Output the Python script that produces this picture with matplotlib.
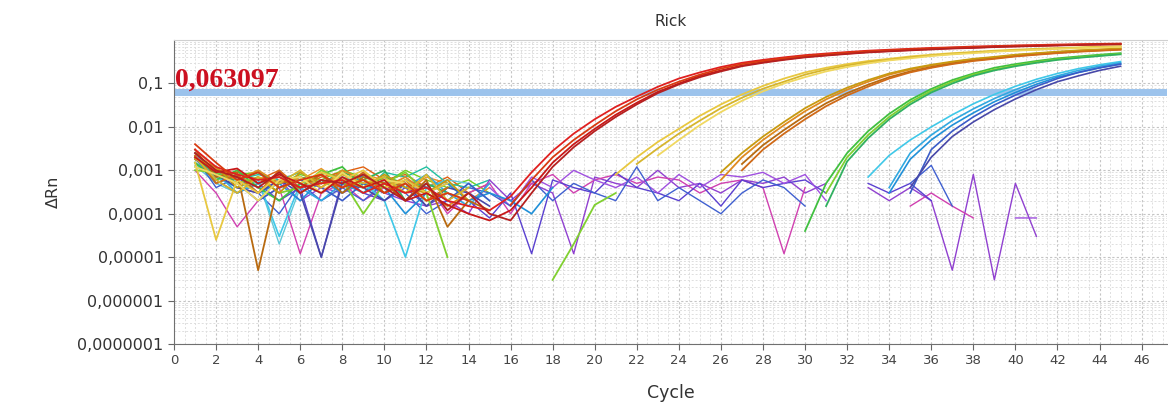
# Amplification plot (Delta Rn vs cycle), log scale, threshold line.
import matplotlib.pyplot as plt
import matplotlib.ticker as mticker
import numpy as np

n = np.nan
cycles = np.arange(1, 46)

threshold = 0.063097
title = 'Rick'
ytick_vals = [1e-7, 1e-6, 1e-5, 1e-4, 1e-3, 1e-2, 1e-1]
ytick_labels = ['0,0000001', '0,000001', '0,00001', '0,0001', '0,001', '0,01', '0,1']

# red wells (Ct ~22.5)
red_wells = [
    [3e-3, 1.2e-3, 8e-4, 6e-4, 7e-4, 4e-4, 5e-4, 6e-4, 3e-4, 5e-4, 3e-4, 4e-4, 2e-4, 1.5e-4, 1.2e-4,
     2.5e-4, 9e-4, 2.8e-3, 7e-3, 1.5e-2, 2.9e-2, 5e-2, 8.4e-2, 0.13, 0.18, 0.24, 0.30, 0.35, 0.40, 0.45,
     0.49, 0.53, 0.57, 0.60, 0.63, 0.66, 0.68, 0.71, 0.73, 0.75, 0.77, 0.79, 0.80, 0.82, 0.83],
    [2e-3, 9e-4, 1.1e-3, 5e-4, 8e-4, 5e-4, 3e-4, 7e-4, 4e-4, 6e-4, 2e-4, 3e-4, 1.6e-4, 1e-4, 7e-5,
     1.2e-4, 4e-4, 1.5e-3, 4e-3, 9e-3, 1.9e-2, 3.6e-2, 6.4e-2, 0.10, 0.15, 0.20, 0.26, 0.31, 0.36, 0.41,
     0.45, 0.49, 0.53, 0.56, 0.59, 0.62, 0.65, 0.67, 0.70, 0.72, 0.74, 0.76, 0.78, 0.79, 0.81],
    [4e-3, 1.5e-3, 6e-4, 9e-4, 4e-4, 6e-4, 8e-4, 4e-4, 6e-4, 3e-4, 5e-4, 2e-4, 3e-4, 2e-4, n,
     1.6e-4, 6e-4, 2e-3, 5e-3, 1.1e-2, 2.3e-2, 4.3e-2, 7.2e-2, 0.11, 0.16, 0.22, 0.28, 0.33, 0.38, 0.43,
     0.47, 0.51, 0.55, 0.58, 0.61, 0.64, 0.67, 0.69, 0.71, 0.74, 0.75, 0.77, 0.79, 0.80, 0.82],
    [2.5e-3, 1e-3, 7e-4, 4e-4, 9e-4, 3e-4, 6e-4, 5e-4, 8e-4, 4e-4, 2e-4, 5e-4, 1.2e-4, 3e-4, 1e-4,
     7e-5, 3e-4, 1.2e-3, 3.4e-3, 8e-3, 1.7e-2, 3.3e-2, 6e-2, 0.095, 0.14, 0.19, 0.25, 0.30, 0.35, 0.40,
     0.44, 0.48, 0.52, 0.55, 0.58, 0.61, 0.64, 0.66, 0.69, 0.71, 0.73, 0.75, 0.77, 0.79, 0.80],
]
red_colors = ['#e02020', '#c81818', '#d83a10', '#b52020']

# yellow wells (Ct ~26.5)
yellow_wells = [
    [1.5e-3, 2.5e-5, 6e-4, 3e-4, 8e-4, 5e-4, 9e-4, 6e-4, 1e-3, 4e-4, 6e-4, 3e-4, 5e-4, n, n,
     n, n, n, n, n, 8e-4, 2e-3, 4.5e-3, 9e-3, 1.8e-2, 3.3e-2, 5.6e-2, 8.8e-2, 0.13, 0.18,
     0.23, 0.28, 0.33, 0.37, 0.42, 0.46, 0.50, 0.53, 0.57, 0.60, 0.63, 0.65, 0.68, 0.70, 0.72],
    [2e-3, 6e-4, 3e-4, 7e-4, 5e-4, 1e-3, 4e-4, 8e-4, 5e-4, 7e-4, 3e-4, 8e-4, 2e-4, 4e-4, n,
     n, n, n, n, n, n, 1.4e-3, 3.2e-3, 7e-3, 1.4e-2, 2.7e-2, 4.7e-2, 7.6e-2, 0.11, 0.16,
     0.21, 0.26, 0.31, 0.35, 0.40, 0.44, 0.48, 0.52, 0.55, 0.58, 0.61, 0.64, 0.66, 0.69, 0.71],
    [1.2e-3, 8e-4, 5e-4, 2e-4, 6e-4, 7e-4, 3e-4, 9e-4, 4e-4, 6e-4, 5e-4, 2e-4, 3e-4, n, n,
     n, n, n, n, n, n, n, 2.2e-3, 5e-3, 1.1e-2, 2.2e-2, 4e-2, 6.6e-2, 0.10, 0.14,
     0.19, 0.24, 0.29, 0.34, 0.38, 0.43, 0.47, 0.50, 0.54, 0.57, 0.60, 0.63, 0.65, 0.68, 0.70],
]
yellow_colors = ['#e8c840', '#d6b52c', '#f0d860']

# orange / brown wells (Ct ~31)
orange_wells = [
    [2e-3, 1e-3, 6e-4, 1e-3, 5e-4, 7e-4, 4e-4, 1e-3, 6e-4, 4e-4, 7e-4, 3e-4, 1.5e-4, 3e-4, n,
     n, n, n, n, n, n, n, n, n, n, 6e-4, 2e-3, 5e-3, 1.1e-2, 2.3e-2,
     4.3e-2, 7.2e-2, 0.11, 0.16, 0.21, 0.26, 0.31, 0.36, 0.40, 0.45, 0.49, 0.53, 0.57, 0.60, 0.63],
    [3e-3, 7e-4, 9e-4, 5e-6, 6e-4, 4e-4, 8e-4, 3e-4, 7e-4, 5e-4, 2e-4, 6e-4, 5e-5, 2e-4, 1.2e-4,
     n, n, n, n, n, n, n, n, n, n, n, 1.4e-3, 3.8e-3, 8.5e-3, 1.8e-2,
     3.5e-2, 6e-2, 0.094, 0.14, 0.19, 0.24, 0.29, 0.34, 0.38, 0.43, 0.47, 0.51, 0.55, 0.58, 0.61],
    [1.8e-3, 1.2e-3, 4e-4, 7e-4, 3e-4, 9e-4, 5e-4, 6e-4, 4e-4, 8e-4, 4e-4, 3e-4, 6e-4, 2e-4, n,
     n, n, n, n, n, n, n, n, n, n, 9e-4, 2.5e-3, 6e-3, 1.3e-2, 2.7e-2,
     4.9e-2, 8e-2, 0.12, 0.17, 0.22, 0.27, 0.32, 0.37, 0.41, 0.46, 0.50, 0.54, 0.58, 0.61, 0.64],
    [2.2e-3, 5e-4, 8e-4, 3e-4, 1e-3, 3e-4, 6e-4, 4e-4, 9e-4, 3e-4, 6e-4, 2e-4, 4e-4, n, n,
     n, n, n, n, n, n, n, n, n, n, n, 1e-3, 3e-3, 7e-3, 1.5e-2,
     3e-2, 5.3e-2, 0.085, 0.13, 0.18, 0.23, 0.28, 0.33, 0.37, 0.42, 0.46, 0.50, 0.54, 0.57, 0.60],
]
orange_colors = ['#e08a20', '#b86a10', '#c89a10', '#d06a18']

# green wells (Ct ~35)
green_wells = [
    [1.5e-3, 6e-4, 1e-3, 4e-4, 2e-4, 5e-4, 8e-4, 1.2e-3, 4e-4, 7e-4, 5e-4, 2e-4, 4e-4, n, n,
     n, n, n, n, n, n, n, n, n, n, n, n, n, n, 4e-5,
     5e-4, 2.5e-3, 8e-3, 2e-2, 4.2e-2, 7.5e-2, 0.12, 0.17, 0.23, 0.28, 0.33, 0.38, 0.42, 0.46, 0.50],
    [1e-3, 9e-4, 5e-4, 7e-4, 3e-4, 4e-4, 1e-3, 6e-4, 1e-4, 5e-4, 9e-4, 3e-4, 1e-5, n, n,
     n, n, 3e-6, 2e-5, 1.6e-4, 3e-4, n, n, n, n, n, n, n, n, n,
     3e-4, 2e-3, 6.5e-3, 1.7e-2, 3.7e-2, 6.8e-2, 0.11, 0.16, 0.21, 0.26, 0.31, 0.36, 0.40, 0.44, 0.48],
    [2e-3, 8e-4, 6e-4, 9e-4, 5e-4, 7e-4, 5e-4, 9e-4, 6e-4, 1e-3, 2e-4, 5e-4, 3e-4, n, n,
     n, n, n, n, n, n, n, n, n, n, n, n, n, n, n,
     1.5e-4, 1.6e-3, 5.5e-3, 1.5e-2, 3.3e-2, 6.2e-2, 0.10, 0.15, 0.20, 0.25, 0.30, 0.35, 0.39, 0.43, 0.47],
]
green_colors = ['#40c040', '#80d030', '#30b060']

# cyan / blue wells (Ct ~39)
cyan_wells = [
    [1.5e-3, 7e-4, 4e-4, 6e-4, 3e-5, 5e-4, 3e-4, 7e-4, 5e-4, 2e-4, 1e-5, 4e-4, 6e-4, n, n,
     n, n, n, n, n, n, n, n, n, n, n, n, n, n, n,
     n, n, 7e-4, 2.2e-3, 5e-3, 1e-2, 1.9e-2, 3.4e-2, 5.6e-2, 8.6e-2, 0.125, 0.17, 0.22, 0.27, 0.32],
    [1.2e-3, 9e-4, 3e-4, 5e-4, 7e-4, 4e-4, 2e-4, 5e-4, 3e-4, 6e-4, 4e-4, 8e-4, 3e-4, 1.5e-4, 5e-4,
     n, n, n, n, n, n, n, n, n, n, n, n, n, n, n,
     n, n, n, 4e-4, 2.5e-3, 6.5e-3, 1.4e-2, 2.6e-2, 4.5e-2, 7.2e-2, 0.11, 0.15, 0.20, 0.25, 0.30],
    [2e-3, 5e-4, 8e-4, 3e-4, 5e-4, 2e-4, 6e-4, 3e-4, 8e-4, 4e-4, 1e-4, 3e-4, 5e-4, 2e-4, 3e-4,
     2e-4, 1e-4, 4e-4, n, n, n, n, n, n, n, n, n, n, n, n,
     n, n, n, 3e-4, 1.8e-3, 5e-3, 1.1e-2, 2.1e-2, 3.8e-2, 6.2e-2, 0.096, 0.14, 0.18, 0.23, 0.28],
    [1.8e-3, 1e-3, 5e-4, 2e-4, 4e-4, 6e-4, 4e-4, 2e-4, 5e-4, 3e-4, 6e-4, 4e-4, 2e-4, 5e-4, 2e-4,
     n, n, n, n, n, n, n, n, n, n, n, n, n, n, n,
     n, n, n, n, 3e-4, 3e-3, 8e-3, 1.7e-2, 3.2e-2, 5.4e-2, 0.086, 0.13, 0.18, 0.23, 0.28],
    [2.5e-3, 8e-4, 4e-4, 3e-4, 6e-4, 3e-4, 1e-5, 5e-4, 4e-4, 2e-4, 5e-4, 1.5e-4, 4e-4, 3e-4, 1.5e-4,
     n, n, n, n, n, n, n, n, n, n, n, n, n, n, n,
     n, n, n, n, 4e-4, 2e-3, 6e-3, 1.3e-2, 2.5e-2, 4.4e-2, 0.072, 0.11, 0.15, 0.20, 0.25],
]
cyan_colors = ['#40c8e8', '#30a8e0', '#2090d8', '#3a5cc8', '#4848a8']

# non-amplifying wells (purple / magenta / blue)
noise_wells = [
    [2e-3, 8e-4, 4e-4, 3e-4, 6e-4, 2e-4, 4e-4, 3e-4, 5e-4, 3e-4, 2e-4, 1.5e-4, 2e-4, 1e-4, 6e-4,
     2e-4, 5e-4, 3e-4, 1.2e-5, 7e-4, 5e-4, 4e-4, 1e-3, 4e-4, 5e-4, 3e-4, 6e-4, 5e-4, 7e-4, 3e-4,
     5e-4, n, 4e-4, 2e-4, 4e-4, 2e-4, 5e-6, 8e-4, 3e-6, 5e-4, 3e-5, n, n, n, n],
    [1e-3, 3e-4, 5e-5, 2e-4, 4e-4, 1.2e-5, 3e-4, 5e-4, 2e-4, 4e-4, 3e-4, 5e-4, 1e-4, 3e-4, 5e-4,
     1e-4, 5e-4, 8e-4, 3e-4, 6e-4, 8e-4, 5e-4, 7e-4, 6e-4, 3e-4, 5e-4, 6e-4, 4e-4, 1.2e-5, 4e-4,
     n, n, n, n, 1.5e-4, 3e-4, 1.5e-4, 8e-5, n, n, n, n, n, n, n],
    [1.5e-3, 6e-4, 3e-4, 5e-4, 2e-4, 4e-4, 1e-5, 6e-4, 3e-4, 2e-4, 4e-4, 1.5e-4, 3e-4, 2e-4, 8e-5,
     3e-4, 1.2e-5, 6e-4, 4e-4, 3e-4, 9e-4, 4e-4, 3e-4, 2e-4, 5e-4, 1.5e-4, 6e-4, 4e-4, 5e-4, 6e-4,
     3e-4, n, 5e-4, 3e-4, 5e-4, 2e-4, n, n, n, n, 8e-5, n, n, n, n],
    [n, n, n, n, n, n, n, n, n, n, n, n, n, n, 4e-4,
     1.5e-4, 7e-4, 4e-4, 1e-3, 6e-4, 4e-4, 7e-4, 3e-4, 8e-4, 4e-4, 8e-4, 7e-4, 9e-4, 5e-4, 8e-4,
     2e-4, n, n, n, n, n, n, n, n, 8e-5, 8e-5, n, n, n, n],
    [2e-3, 4e-4, 7e-4, 3e-4, 1e-4, 5e-4, 2e-4, 4e-4, 2e-4, 5e-4, 3e-4, 1e-4, 2e-4, 4e-4, 3e-4,
     1.5e-4, 6e-4, 2e-4, 5e-4, 3e-4, 2e-4, 1.2e-3, 2e-4, 4e-4, 2e-4, 1e-4, 3e-4, 6e-4, 4e-4, 1.5e-4,
     n, n, n, n, 5e-4, 1.3e-3, 1.5e-4, n, n, n, n, n, n, n, n],
]
noise_colors = ['#9040d0', '#d040b0', '#5a40d0', '#a050e0', '#4060d0']

# baseline-only wells, cycles 1-15
baseline_wells = [
    [2.5e-3, 1e-3, 8e-4, 9e-4, 5e-4, 8e-4, 6e-4, 1e-3, 7e-4, 5e-4, 1e-3, 6e-4, 4e-4, 6e-4, 3e-4],
    [1.8e-3, 7e-4, 9e-4, 6e-4, 1e-3, 4e-4, 7e-4, 9e-4, 1.2e-3, 6e-4, 8e-4, 4e-4, 7e-4, 3e-4, 5e-4],
    [2e-3, 9e-4, 6e-4, 8e-4, 6e-4, 9e-4, 5e-4, 7e-4, 3e-4, 9e-4, 7e-4, 1.2e-3, 5e-4, 4e-4, 6e-4],
    [3e-3, 1.1e-3, 7e-4, 5e-4, 7e-4, 6e-4, 1.1e-3, 5e-4, 8e-4, 6e-4, 3e-4, 7e-4, 5e-4, 2e-4, 4e-4],
    [1.3e-3, 5e-4, 3e-4, 6e-4, 2e-5, 4e-4, 6e-4, 3e-4, 6e-4, 2e-4, 5e-4, 3e-4, 6e-4, 5e-4, 2e-4],
]
baseline_colors = ['#70d020', '#e06010', '#20c0a0', '#f09020', '#60c8d8']

fig = plt.figure(figsize=(11.68, 4.09), dpi=100)
ax = fig.add_axes([0.149, 0.159, 0.85, 0.743])
ax.set_yscale('log')

# grid first, under everything
ax.set_xticks(np.arange(0, 47, 2))
ax.xaxis.set_minor_locator(mticker.MultipleLocator(0.5))
ax.yaxis.set_minor_locator(mticker.LogLocator(base=10, subs=np.arange(2, 10), numticks=20))
ax.grid(which='major', color='#c4c4c4', linestyle=(0, (2, 2)), linewidth=0.8)
ax.grid(which='minor', color='#dedede', linestyle=(0, (2, 2)), linewidth=0.7)
ax.set_axisbelow(True)

ax.axhline(threshold, color='#9cc3ec', linewidth=5, zorder=1)

groups = [(noise_wells, noise_colors, 1.0), (cyan_wells, cyan_colors, 1.2),
          (green_wells, green_colors, 1.3), (orange_wells, orange_colors, 1.3),
          (yellow_wells, yellow_colors, 1.3), (red_wells, red_colors, 1.3)]
for vals, c in zip(baseline_wells, baseline_colors):
    ax.plot(cycles[:len(vals)], vals, color=c, linewidth=1.0, zorder=2)
for wells, colors, lw in groups:
    for vals, c in zip(wells, colors):
        ax.plot(cycles, vals, color=c, linewidth=lw, zorder=2)

ax.text(0.05, threshold * 0.98, '0,063097', color='#cc1020', fontsize=20,
        fontweight='bold', family='Liberation Serif', va='bottom', ha='left', zorder=3)

ax.set_xlim(0, 47.2)
ax.set_ylim(1e-7, 1)
ax.set_yticks(ytick_vals)
ax.set_yticklabels(ytick_labels)
ax.tick_params(axis='y', which='minor', length=0)
ax.tick_params(axis='x', which='minor', length=0)
ax.tick_params(axis='y', labelsize=11.5, labelcolor='#333333', color='#666666', length=4)
ax.tick_params(axis='x', labelsize=9.5, labelcolor='#444444', color='#666666', length=4)

for s in ['left', 'bottom']:
    ax.spines[s].set_color('#707070')
ax.spines['top'].set_color('#d0d0d0')
ax.spines['right'].set_visible(False)

ax.set_title(title, fontsize=11, color='#333333', pad=10)
ax.set_xlabel('Cycle', fontsize=12.5, color='#333333', labelpad=12)
ax.set_ylabel('ΔRn', fontsize=11.5, color='#333333', labelpad=12)

fig.savefig('out.png', dpi=100)
